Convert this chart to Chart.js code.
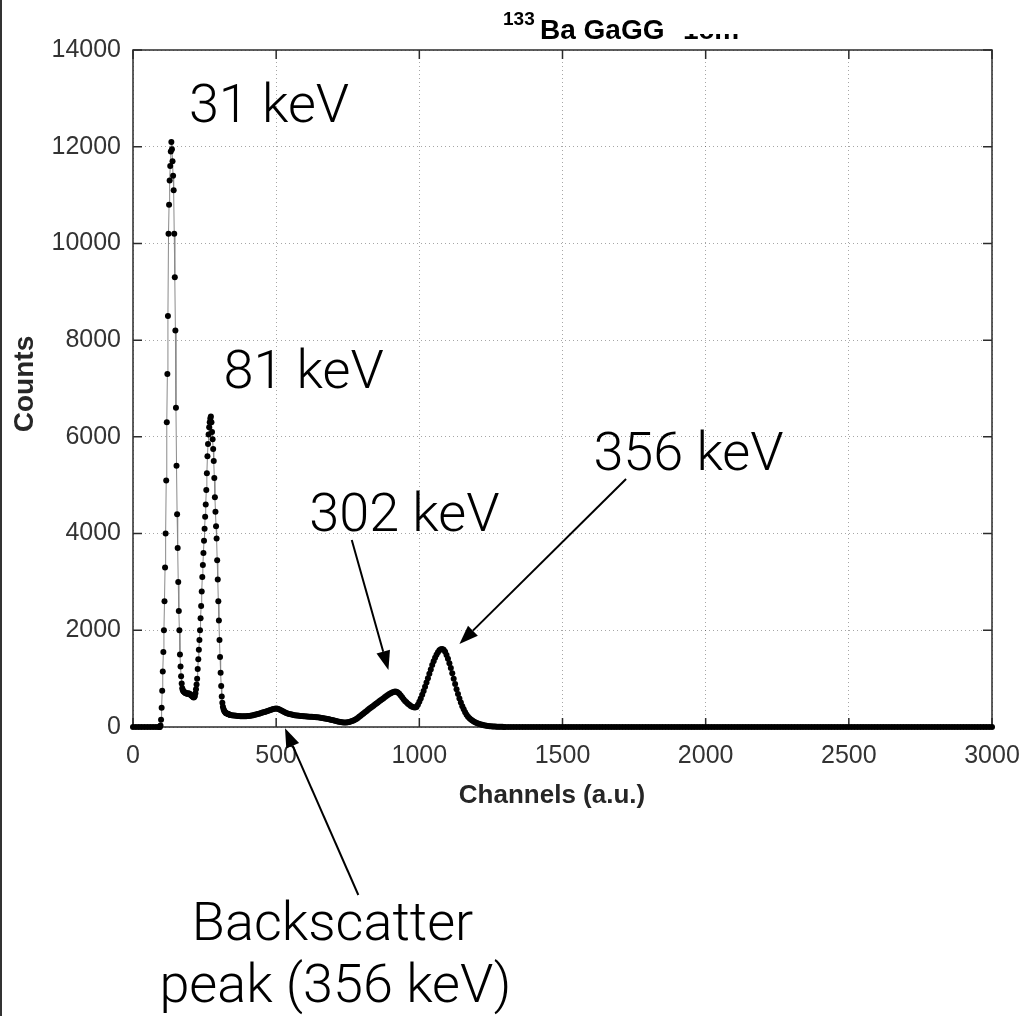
<!DOCTYPE html>
<html>
<head>
<meta charset="utf-8">
<title>133Ba GaGG</title>
<script src="https://cdn.jsdelivr.net/npm/chart.js@4.4.0/dist/chart.umd.min.js"></script>
<style>
  html, body { margin: 0; padding: 0; background: #fff; }
  canvas { display: block; }
</style>
</head>
<body>
<canvas id="espectro" width="1020" height="1016"></canvas>
<script>
// Espectro por tramos: canal inicial, paso en canales y cuentas leidas
const inicioFondo = 0, pasoFondo = 10;          // canales 0-90
const cuentasFondo = [0, 0, 0, 0, 0, 0, 0, 0, 0, 0];

const inicioPicos = 92, pasoPicos = 2;          // canales 92-340 (31 y 81 keV)
const cuentasPicos = [
    0, 0, 30, 150, 400, 750, 1150, 1550, 2000, 2600,
    3300, 4000, 5100, 6300, 7300, 8500, 10200, 10800, 11300, 11600,
    11900, 12100, 11950, 11700, 11400, 11100, 10200, 9300, 8200, 6600,
    5400, 4400, 3700, 3000, 2400, 2000, 1500, 1250, 1050, 900,
    800, 760, 740, 730, 720, 710, 700, 700, 695, 690,
    690, 700, 690, 680, 670, 660, 650, 640, 630, 620,
    610, 620, 640, 700, 780, 880, 1000, 1200, 1400, 1600,
    1800, 2000, 2250, 2500, 2800, 3100, 3350, 3600, 3850, 4100,
    4350, 4600, 4900, 5250, 5600, 5850, 6050, 6200, 6300, 6380,
    6420, 6300, 6100, 5950, 5750, 5500, 5150, 4750, 4450, 4150,
    3900, 3450, 3050, 2600, 2200, 1800, 1450, 1120, 850, 630,
    500, 420, 370, 340, 320, 305, 290, 285, 280, 275,
    270, 265, 260, 255, 250
];

const inicioCompton = 345, pasoCompton = 5;     // canales 345-1300 (retrodispersion, 302 y 356 keV)
const cuentasCompton = [
    245, 240, 236, 232, 228, 226, 224, 222, 220, 220,
    222, 225, 228, 232, 238, 245, 252, 260, 268, 276,
    285, 294, 303, 312, 322, 332, 342, 352, 362, 370,
    376, 380, 376, 366, 352, 336, 320, 305, 292, 280,
    270, 262, 256, 250, 245, 240, 236, 232, 228, 225,
    222, 220, 218, 216, 214, 212, 210, 208, 206, 204,
    200, 196, 192, 188, 183, 178, 172, 166, 160, 152,
    145, 138, 130, 122, 115, 108, 102, 98, 95, 94,
    95, 98, 104, 112, 122, 135, 150, 168, 188, 210,
    232, 256, 280, 304, 328, 352, 375, 398, 420, 442,
    464, 486, 508, 530, 552, 574, 596, 618, 640, 660,
    680, 698, 714, 726, 732, 728, 712, 686, 652, 614,
    574, 540, 510, 482, 458, 436, 418, 406, 404, 416,
    460, 520, 590, 665, 745, 830, 920, 1010, 1100, 1190,
    1280, 1360, 1430, 1495, 1545, 1585, 1610, 1615, 1596, 1555,
    1490, 1410, 1320, 1220, 1110, 1000, 890, 780, 680, 590,
    505, 430, 365, 305, 255, 212, 180, 155, 134, 115,
    98, 84, 72, 62, 53, 45, 38, 32, 27, 22,
    18, 15, 12, 10, 8, 7, 6, 5, 4, 3,
    2, 2
];

const inicioCola = 1310, pasoCola = 10;         // canales 1310-3000
const cuentasCola = [
    0, 0, 0, 0, 0, 0, 0, 0, 0, 0,
    0, 0, 0, 0, 0, 0, 0, 0, 0, 0,
    0, 0, 0, 0, 0, 0, 0, 0, 0, 0,
    0, 0, 0, 0, 0, 0, 0, 0, 0, 0,
    0, 0, 0, 0, 0, 0, 0, 0, 0, 0,
    0, 0, 0, 0, 0, 0, 0, 0, 0, 0,
    0, 0, 0, 0, 0, 0, 0, 0, 0, 0,
    0, 0, 0, 0, 0, 0, 0, 0, 0, 0,
    0, 0, 0, 0, 0, 0, 0, 0, 0, 0,
    0, 0, 0, 0, 0, 0, 0, 0, 0, 0,
    0, 0, 0, 0, 0, 0, 0, 0, 0, 0,
    0, 0, 0, 0, 0, 0, 0, 0, 0, 0,
    0, 0, 0, 0, 0, 0, 0, 0, 0, 0,
    0, 0, 0, 0, 0, 0, 0, 0, 0, 0,
    0, 0, 0, 0, 0, 0, 0, 0, 0, 0,
    0, 0, 0, 0, 0, 0, 0, 0, 0, 0,
    0, 0, 0, 0, 0, 0, 0, 0, 0, 0
];

const ticksX = [0, 500, 1000, 1500, 2000, 2500, 3000];
const ticksY = [0, 2000, 4000, 6000, 8000, 10000, 12000, 14000];

// Notas de los picos, en unidades de los ejes (canal, cuentas)
const notasTexto = ['31 keV', '81 keV', '302 keV', '356 keV', 'Backscatter', 'peak (356 keV)'];
const notasCanal = [475, 596, 948, 1940, 697, 707];
const notasCuentas = [12510, 7010, 4053, 5314, -4404, -5680];

// Flechas: origen y punta, tambien en unidades de los ejes
const flechas = [
    { desde: [764, 3867], hasta: [892, 1179] },
    { desde: [1722, 5128], hasta: [1140, 1716] },
    { desde: [787, -3474], hasta: [531, -27] }
];

function armarTramo(inicio, paso, cuentas) {
    return cuentas.map((c, i) => ({ x: inicio + i * paso, y: c }));
}

const puntos = [].concat(
    armarTramo(inicioFondo, pasoFondo, cuentasFondo),
    armarTramo(inicioPicos, pasoPicos, cuentasPicos),
    armarTramo(inicioCompton, pasoCompton, cuentasCompton),
    armarTramo(inicioCola, pasoCola, cuentasCola)
);

function dibujarFlecha(ctx, x1, y1, x2, y2) {
    const ang = Math.atan2(y2 - y1, x2 - x1);
    const largo = 19, ancho = 7;
    const bx = x2 - largo * Math.cos(ang);
    const by = y2 - largo * Math.sin(ang);
    ctx.beginPath();
    ctx.moveTo(x1, y1);
    ctx.lineTo(bx, by);
    ctx.lineWidth = 2;
    ctx.strokeStyle = '#000';
    ctx.stroke();
    ctx.beginPath();
    ctx.moveTo(x2, y2);
    ctx.lineTo(bx + ancho * Math.sin(ang), by - ancho * Math.cos(ang));
    ctx.lineTo(bx - ancho * Math.sin(ang), by + ancho * Math.cos(ang));
    ctx.closePath();
    ctx.fillStyle = '#000';
    ctx.fill();
}

// Caja de ejes con marcas hacia adentro, estilo MATLAB
const marcoEjes = {
    id: 'marcoEjes',
    beforeDatasetsDraw(chart) {
        const ctx = chart.ctx;
        const a = chart.chartArea;
        const sx = chart.scales.x, sy = chart.scales.y;
        ctx.save();
        ctx.strokeStyle = '#2b2b2b';
        ctx.lineWidth = 1.5;
        ctx.strokeRect(a.left, a.top, a.right - a.left, a.bottom - a.top);
        ctx.beginPath();
        ticksX.forEach(v => {
            const px = sx.getPixelForValue(v);
            ctx.moveTo(px, a.bottom); ctx.lineTo(px, a.bottom - 9);
            ctx.moveTo(px, a.top); ctx.lineTo(px, a.top + 9);
        });
        ticksY.forEach(v => {
            const py = sy.getPixelForValue(v);
            ctx.moveTo(a.left, py); ctx.lineTo(a.left + 9, py);
            ctx.moveTo(a.right, py); ctx.lineTo(a.right - 9, py);
        });
        ctx.stroke();
        ctx.restore();
    },
    afterDraw(chart) {
        const ctx = chart.ctx;
        const sx = chart.scales.x, sy = chart.scales.y;
        ctx.save();

        // borde izquierdo de la figura
        ctx.fillStyle = '#333';
        ctx.fillRect(0, 0, 2, chart.height);

        // titulo
        ctx.fillStyle = '#000';
        ctx.textAlign = 'left';
        ctx.textBaseline = 'alphabetic';
        ctx.font = 'bold 19px "Liberation Sans", Arial, sans-serif';
        ctx.fillText('133', 503, 25);
        ctx.font = 'bold 28px "Liberation Sans", Arial, sans-serif';
        ctx.fillText('Ba GaGG', 540, 39);
        ctx.save();
        ctx.beginPath();
        ctx.rect(670, 34, 80, 6);
        ctx.clip();
        ctx.fillText('1cm', 683, 39);
        ctx.restore();

        // titulos de ejes
        ctx.fillStyle = '#262626';
        ctx.textAlign = 'center';
        ctx.font = 'bold 26px "Liberation Sans", Arial, sans-serif';
        ctx.fillText('Channels (a.u.)', 552, 803);
        ctx.save();
        ctx.translate(33, 384);
        ctx.rotate(-Math.PI / 2);
        ctx.font = 'bold 28px "Liberation Sans", Arial, sans-serif';
        ctx.fillText('Counts', 0, 0);
        ctx.restore();

        // notas y flechas
        ctx.fillStyle = '#000';
        ctx.font = '300 54px Roboto, "Helvetica Neue", sans-serif';
        notasTexto.forEach((t, i) => {
            ctx.fillText(t, sx.getPixelForValue(notasCanal[i]), sy.getPixelForValue(notasCuentas[i]));
        });
        flechas.forEach(f => {
            dibujarFlecha(ctx,
                sx.getPixelForValue(f.desde[0]), sy.getPixelForValue(f.desde[1]),
                sx.getPixelForValue(f.hasta[0]), sy.getPixelForValue(f.hasta[1]));
        });
        ctx.restore();
    }
};

const fuenteTicks = { family: '"Liberation Sans", Arial, sans-serif', size: 25 };

new Chart(document.getElementById('espectro').getContext('2d'), {
    type: 'scatter',
    data: {
        datasets: [{
            data: puntos,
            showLine: true,
            borderColor: '#8a8a8a',
            borderWidth: 1,
            pointRadius: 3,
            pointBackgroundColor: '#000',
            pointBorderWidth: 0,
            clip: 6
        }]
    },
    options: {
        responsive: false,
        animation: false,
        layout: { padding: { top: 50, right: 28, left: 0, bottom: 0 } },
        plugins: {
            legend: { display: false },
            tooltip: { enabled: false }
        },
        scales: {
            x: {
                type: 'linear',
                min: 0,
                max: 3000,
                afterBuildTicks: s => { s.ticks = ticksX.map(v => ({ value: v })); },
                afterFit: s => { s.height = 289; s.paddingLeft = 0; s.paddingRight = 0; },
                ticks: { color: '#333', font: fuenteTicks, padding: 14, maxRotation: 0, callback: v => String(v) },
                grid: { color: 'rgba(0,0,0,0.35)', lineWidth: 1, drawTicks: false },
                border: { display: false, dash: [1, 3] }
            },
            y: {
                min: 0,
                max: 14000,
                afterBuildTicks: s => { s.ticks = ticksY.map(v => ({ value: v })); },
                afterFit: s => { s.width = 133; s.paddingTop = 0; s.paddingBottom = 0; },
                ticks: { color: '#333', font: fuenteTicks, padding: 12, callback: v => String(v) },
                grid: { color: 'rgba(0,0,0,0.35)', lineWidth: 1, drawTicks: false },
                border: { display: false, dash: [1, 3] }
            }
        }
    },
    plugins: [marcoEjes]
});
</script>
</body>
</html>
